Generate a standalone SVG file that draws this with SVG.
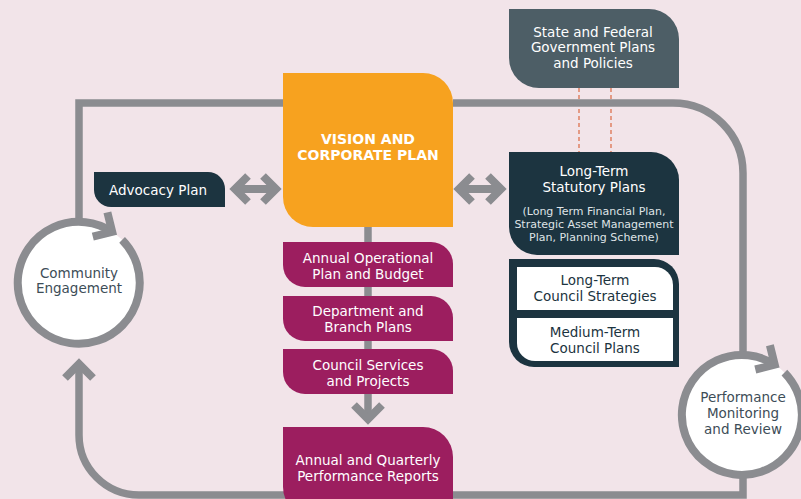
<svg xmlns="http://www.w3.org/2000/svg" width="801" height="499" viewBox="0 0 801 499">
<style>
.bg{fill:#f2e4e9}
.line{fill:none;stroke:#8b8c90;stroke-width:7.5;stroke-linejoin:miter;stroke-linecap:butt}
.arrow{fill:none;stroke:#8b8c90;stroke-width:8;stroke-linejoin:miter;stroke-miterlimit:10;stroke-linecap:butt}
.dash{fill:none;stroke:#e0876c;stroke-width:1.6;stroke-dasharray:4 3}
.orange{fill:#f7a21f}
.mag{fill:#9c1e5f}
.dark{fill:#1c3440}
.slate{fill:#4d5e66}
.white{fill:#ffffff}
text{font-family:"DejaVu Sans","Liberation Sans",sans-serif;text-anchor:middle;font-size:13.5px}
.tw{fill:#ffffff}
.td{fill:#1c3440}
.tg{fill:#3d4d57}
.bold{font-weight:bold;font-size:14px}
.small{font-size:11px;fill:#dfe3e6}
</style>
<rect class="bg" x="0" y="0" width="801" height="499"/>
<g id="connectors">
  <path class="dash" d="M579 88 V152 M611 88 V152"/>
  <path class="line" d="M283 103 H79 V225"/>
  <path class="line" d="M453 103 H673 A70 70 0 0 1 743 173 V360"/>
  <path class="line" d="M79 366 V435 A60 60 0 0 0 139 495 H743 V470"/>
  <path class="arrow" d="M65 378 L79 364 L93 378"/>
  <path class="line" d="M368 227 V416"/>
  <path class="arrow" d="M354 405 L368 419 L382 405"/>
  <path class="arrow" d="M235 189 H276 M248 176 L235 189 L248 202 M263 176 L276 189 L263 202"/>
  <path class="arrow" d="M459 189 H501 M472 176 L459 189 L472 202 M488 176 L501 189 L488 202"/>
</g>
<g id="state">
  <path class="slate" d="M509 9 H649 A30 30 0 0 1 679 39 V88 H539 A30 30 0 0 1 509 58 Z"/>
  <text class="tw" x="593" y="36.5">State and Federal</text>
  <text class="tw" x="593" y="52">Government Plans</text>
  <text class="tw" x="593" y="67.5">and Policies</text>
</g>
<g id="vision">
  <path class="orange" d="M283 73 H423 A30 30 0 0 1 453 103 V227 H313 A30 30 0 0 1 283 197 Z"/>
  <text class="tw bold" x="368" y="143.5">VISION AND</text>
  <text class="tw bold" x="368" y="160">CORPORATE PLAN</text>
</g>
<g id="advocacy">
  <path class="dark" d="M94 172 H208 A17 17 0 0 1 225 189 V207 H111 A17 17 0 0 1 94 190 Z"/>
  <text class="tw" x="158" y="195">Advocacy Plan</text>
</g>
<g id="statutory">
  <path class="dark" d="M509 152 H651 A28 28 0 0 1 679 180 V255 H537 A28 28 0 0 1 509 227 Z"/>
  <text class="tw" x="594" y="176">Long-Term</text>
  <text class="tw" x="594" y="192">Statutory Plans</text>
  <text class="small" x="594" y="214.5">(Long Term Financial Plan,</text>
  <text class="small" x="594" y="227.8">Strategic Asset Management</text>
  <text class="small" x="594" y="241.3">Plan, Planning Scheme)</text>
</g>
<g id="council">
  <path class="dark" d="M509 259 H654 A25 25 0 0 1 679 284 V367 H534 A25 25 0 0 1 509 342 Z"/>
  <path class="white" d="M517 267 H655 A18 18 0 0 1 673 285 V310 H517 Z"/>
  <path class="white" d="M517 318 H673 V361 H535 A18 18 0 0 1 517 343 Z"/>
  <text class="td" x="595" y="285">Long-Term</text>
  <text class="td" x="595" y="300.7">Council Strategies</text>
  <text class="td" x="595" y="336.7">Medium-Term</text>
  <text class="td" x="595" y="352.7">Council Plans</text>
</g>
<g id="operational">
  <path class="mag" d="M283 242 H431 A22 22 0 0 1 453 264 V287 H305 A22 22 0 0 1 283 265 Z"/>
  <text class="tw" x="368" y="263">Annual Operational</text>
  <text class="tw" x="368" y="278.5">Plan and Budget</text>
</g>
<g id="department">
  <path class="mag" d="M283 296 H431 A22 22 0 0 1 453 318 V341 H305 A22 22 0 0 1 283 319 Z"/>
  <text class="tw" x="368" y="316">Department and</text>
  <text class="tw" x="368" y="332">Branch Plans</text>
</g>
<g id="services">
  <path class="mag" d="M283 349 H431 A22 22 0 0 1 453 371 V394 H305 A22 22 0 0 1 283 372 Z"/>
  <text class="tw" x="368" y="370">Council Services</text>
  <text class="tw" x="368" y="386">and Projects</text>
</g>
<g id="reports">
  <path class="mag" d="M283 427 H423 A30 30 0 0 1 453 457 V517 H313 A30 30 0 0 1 283 487 Z"/>
  <text class="tw" x="368" y="465">Annual and Quarterly</text>
  <text class="tw" x="368" y="481">Performance Reports</text>
</g>
<g id="community">
  <circle class="white" cx="79" cy="283" r="61"/>
  <path class="line" style="stroke-width:8" d="M122.1 239.9 A61 61 0 1 1 112.2 231.8"/>
  <path class="arrow" d="M107.4 212.4 L112.2 231.8 L92.8 236.7"/>
  <text class="tg" x="79" y="277.7">Community</text>
  <text class="tg" x="79" y="293.3">Engagement</text>
</g>
<g id="performance">
  <circle class="white" cx="742" cy="415" r="60"/>
  <path class="line" style="stroke-width:8" d="M784.4 372.6 A60 60 0 1 1 774.7 364.7"/>
  <path class="arrow" d="M769.9 345.3 L774.7 364.7 L755.3 369.5"/>
  <text class="tg" x="743" y="401.7">Performance</text>
  <text class="tg" x="743" y="417.7">Monitoring</text>
  <text class="tg" x="743" y="434.3">and Review</text>
</g>
</svg>
